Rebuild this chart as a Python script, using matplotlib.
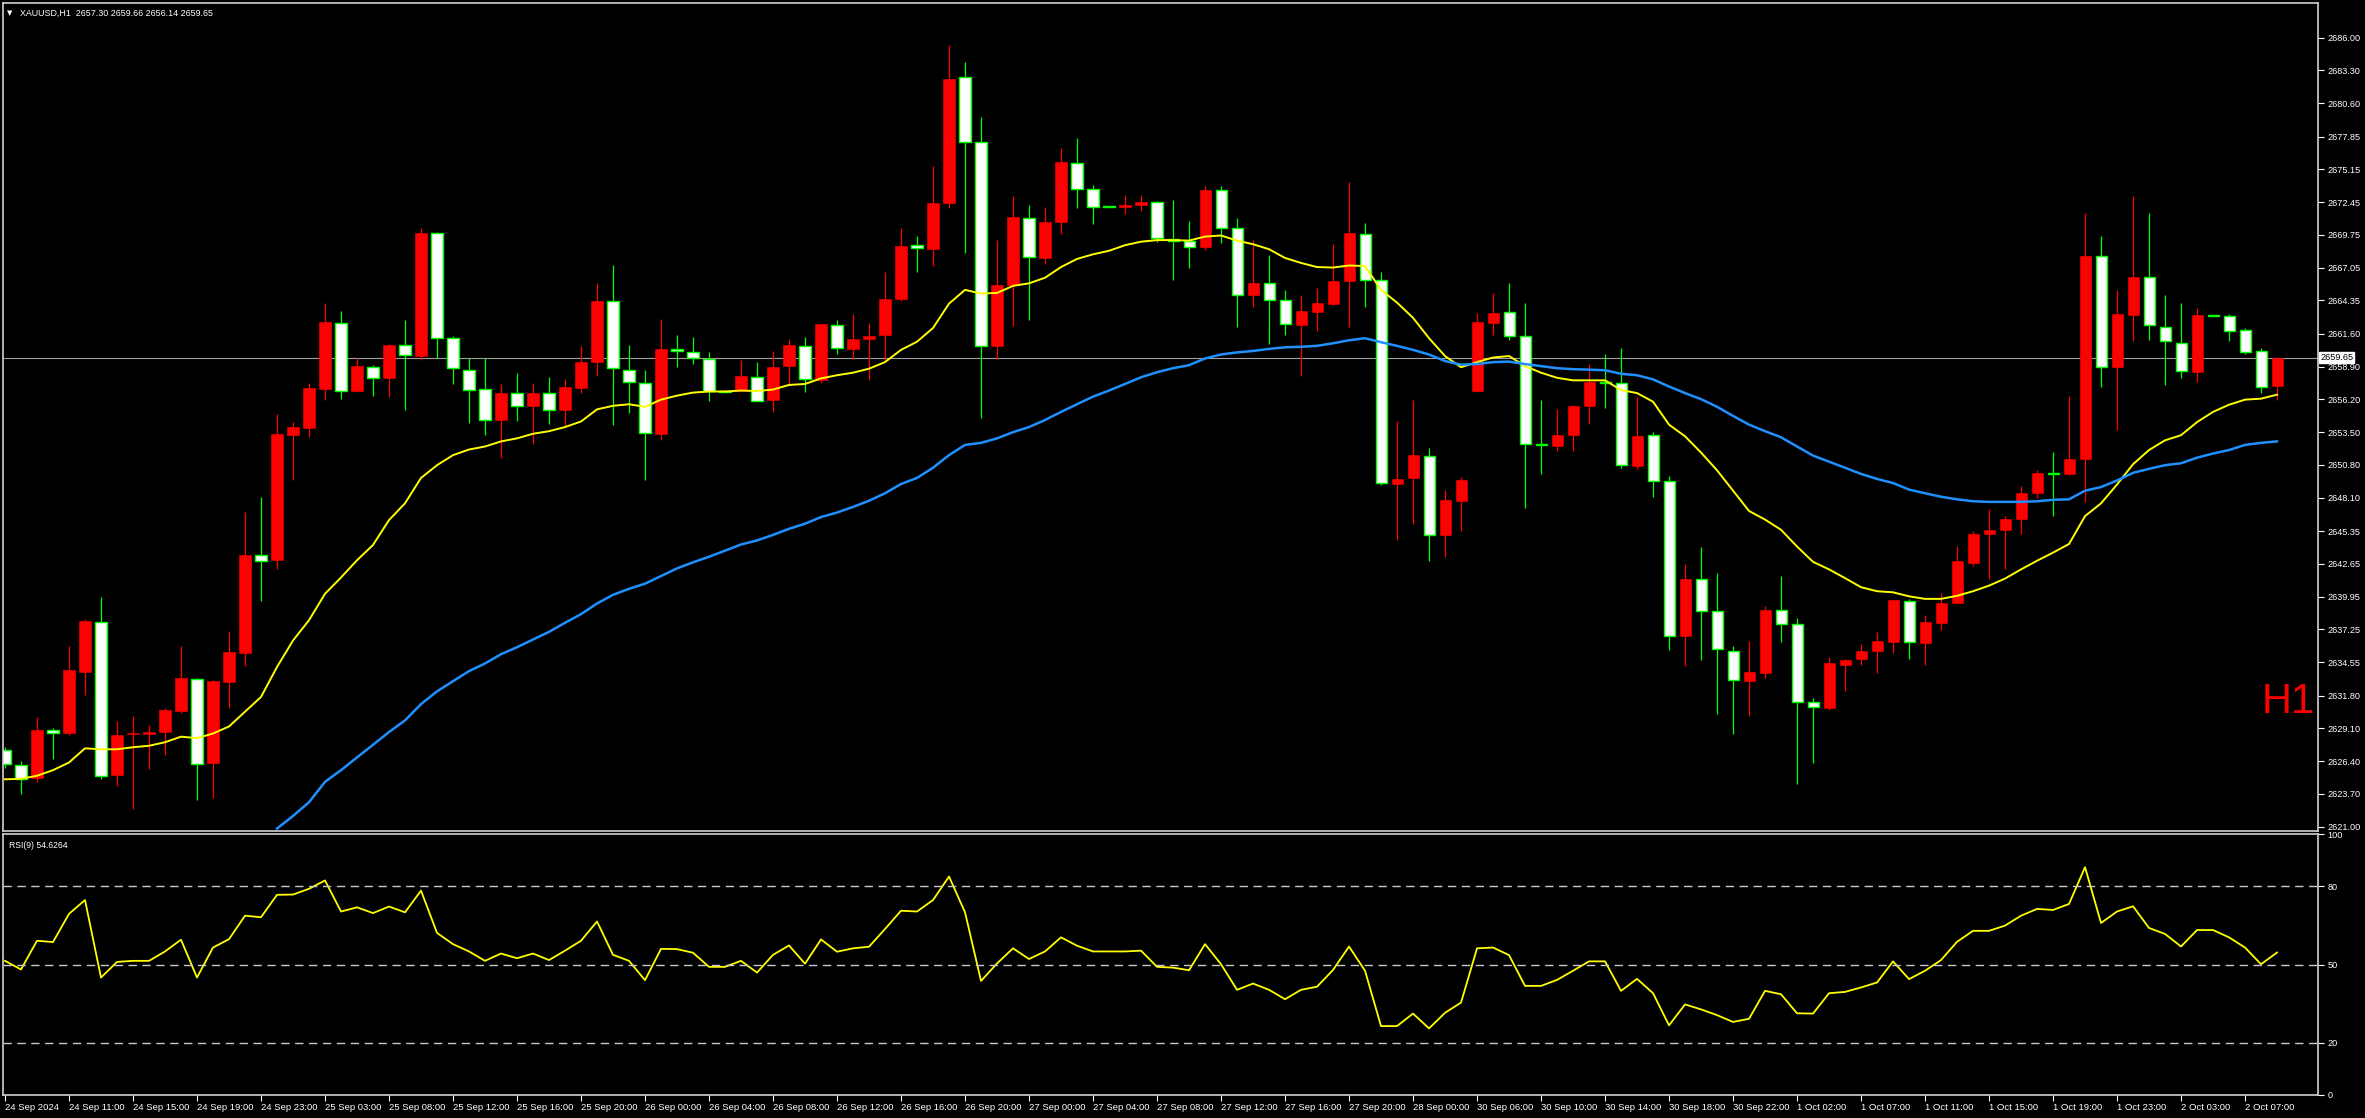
import numpy as np
import matplotlib.pyplot as plt

# XAUUSD H1 candles (open, high, low, close)
opens = [2627.29, 2626.12, 2624.99, 2628.93, 2628.76, 2633.78, 2637.88, 2625.24, 2628.63, 2628.63,
         2628.84, 2630.52, 2633.20, 2626.21, 2632.94, 2635.33, 2643.37, 2642.95, 2653.29, 2653.87,
         2657.05, 2662.50, 2656.89, 2658.90, 2657.98, 2660.69, 2659.77, 2669.91, 2661.24, 2658.65,
         2657.05, 2654.54, 2656.76, 2655.67, 2656.76, 2655.34, 2657.14, 2659.27, 2664.30, 2658.65,
         2657.56, 2653.37, 2660.32, 2660.11, 2659.52, 2656.89, 2656.89, 2658.06, 2656.13, 2658.94,
         2660.61, 2657.81, 2662.33, 2660.32, 2661.16, 2661.53, 2664.51, 2668.90, 2668.61, 2672.37,
         2682.76, 2677.40, 2660.61, 2665.63, 2671.16, 2667.81, 2670.79, 2675.68, 2673.55, 2672.10,
         2672.08, 2672.25, 2672.42, 2669.44, 2669.28, 2668.78, 2673.46, 2670.28, 2664.76, 2665.76,
         2664.38, 2662.33, 2663.42, 2664.05, 2665.93, 2669.86, 2666.01, 2649.27, 2649.69, 2651.57,
         2645.00, 2647.85, 2656.89, 2662.50, 2663.38, 2661.41, 2652.49, 2652.33, 2653.29, 2655.67,
         2657.60, 2657.56, 2650.69, 2653.29, 2649.44, 2636.75, 2641.40, 2638.76, 2635.50, 2633.03,
         2633.70, 2638.85, 2637.67, 2631.31, 2630.81, 2634.33, 2634.79, 2635.50, 2636.25, 2639.60,
         2636.17, 2637.80, 2639.43, 2642.74, 2645.08, 2645.42, 2646.34, 2648.47, 2650.11, 2650.02,
         2651.32, 2667.98, 2658.90, 2663.17, 2666.31, 2662.16, 2660.86, 2658.48, 2663.12, 2663.04,
         2661.91, 2660.19, 2657.30]
highs = [2627.55, 2626.41, 2630.06, 2629.14, 2635.92, 2638.09, 2639.89, 2629.72, 2630.14, 2629.39,
         2630.77, 2635.92, 2633.24, 2633.07, 2637.09, 2646.92, 2648.18, 2654.96, 2654.33, 2657.52,
         2664.17, 2663.50, 2659.65, 2659.06, 2660.74, 2662.71, 2670.32, 2669.99, 2661.45, 2659.61,
         2659.61, 2657.43, 2658.35, 2657.52, 2658.02, 2657.85, 2660.57, 2665.80, 2667.27, 2660.65,
         2658.60, 2662.79, 2661.53, 2661.37, 2660.07, 2656.93, 2659.48, 2659.31, 2660.15, 2661.20,
         2661.37, 2662.45, 2662.71, 2663.25, 2662.46, 2666.72, 2670.32, 2669.65, 2675.39, 2685.35,
         2684.01, 2679.49, 2669.32, 2672.96, 2672.21, 2672.04, 2676.90, 2677.69, 2673.84, 2672.12,
         2673.00, 2673.00, 2672.54, 2672.63, 2670.91, 2673.76, 2673.76, 2671.16, 2669.32, 2668.11,
         2665.22, 2664.76, 2665.39, 2669.03, 2674.09, 2670.74, 2666.72, 2654.42, 2656.13, 2652.16,
         2648.73, 2649.81, 2663.33, 2664.93, 2665.80, 2664.17, 2656.18, 2655.38, 2655.71, 2659.15,
         2659.90, 2660.40, 2656.43, 2653.50, 2649.86, 2642.65, 2644.04, 2641.94, 2635.92, 2636.30,
         2639.22, 2641.69, 2638.18, 2631.61, 2634.95, 2634.79, 2636.04, 2637.01, 2639.68, 2639.77,
         2638.47, 2640.23, 2644.16, 2645.33, 2647.18, 2646.59, 2649.06, 2650.40, 2651.87, 2656.47,
         2671.54, 2669.65, 2665.18, 2672.96, 2671.54, 2664.76, 2664.17, 2663.75, 2663.14, 2663.21,
         2662.04, 2660.45, 2659.66]
lows = [2625.87, 2623.69, 2624.70, 2626.54, 2628.55, 2631.84, 2624.95, 2624.32, 2622.44, 2625.75,
        2626.87, 2630.35, 2623.23, 2623.36, 2630.81, 2634.28, 2639.60, 2642.24, 2649.60, 2653.08,
        2656.13, 2656.26, 2656.85, 2656.51, 2656.43, 2655.34, 2659.44, 2659.65, 2657.47, 2654.29,
        2653.29, 2651.40, 2654.38, 2652.49, 2654.21, 2653.92, 2656.72, 2658.10, 2654.13, 2655.09,
        2649.52, 2652.87, 2658.90, 2659.15, 2656.09, 2656.81, 2656.85, 2656.05, 2655.13, 2657.35,
        2656.80, 2657.56, 2659.94, 2659.52, 2657.77, 2659.36, 2664.34, 2666.72, 2667.18, 2672.00,
        2668.27, 2654.63, 2659.52, 2662.25, 2662.71, 2667.39, 2669.86, 2672.00, 2670.62, 2672.04,
        2671.45, 2671.75, 2669.15, 2666.01, 2667.06, 2668.48, 2669.07, 2662.16, 2663.84, 2660.74,
        2661.53, 2658.10, 2661.83, 2664.01, 2662.16, 2663.79, 2649.19, 2644.58, 2645.92, 2642.87,
        2643.20, 2645.38, 2656.85, 2661.49, 2661.07, 2647.22, 2650.02, 2651.95, 2651.91, 2654.21,
        2655.51, 2650.57, 2650.48, 2648.14, 2635.58, 2634.28, 2634.75, 2630.31, 2628.68, 2630.10,
        2633.28, 2636.25, 2624.49, 2626.29, 2630.64, 2632.15, 2634.33, 2633.70, 2635.29, 2634.83,
        2634.33, 2637.17, 2639.39, 2642.49, 2641.44, 2642.24, 2645.12, 2648.05, 2646.63, 2649.98,
        2647.76, 2657.22, 2653.71, 2660.99, 2661.07, 2657.39, 2657.98, 2657.64, 2663.06, 2660.99,
        2659.90, 2656.72, 2656.14]
closes = [2626.16, 2624.95, 2628.97, 2628.72, 2633.91, 2637.93, 2625.16, 2628.55, 2628.72, 2628.84,
          2630.60, 2633.24, 2626.16, 2632.99, 2635.37, 2643.41, 2642.91, 2653.33, 2653.92, 2657.10,
          2662.54, 2656.93, 2658.98, 2657.98, 2660.65, 2659.86, 2669.91, 2661.28, 2658.77, 2657.01,
          2654.54, 2656.76, 2655.67, 2656.76, 2655.34, 2657.18, 2659.27, 2664.34, 2658.77, 2657.60,
          2653.41, 2660.36, 2660.15, 2659.57, 2656.89, 2656.85, 2658.10, 2656.09, 2658.90, 2660.65,
          2657.89, 2662.37, 2660.45, 2661.20, 2661.45, 2664.51, 2668.86, 2668.65, 2672.37, 2682.63,
          2677.40, 2660.61, 2665.63, 2671.20, 2667.90, 2670.83, 2675.72, 2673.51, 2672.08, 2672.06,
          2672.21, 2672.42, 2669.53, 2669.28, 2668.73, 2673.42, 2670.28, 2664.76, 2665.80, 2664.38,
          2662.37, 2663.50, 2664.17, 2665.97, 2669.91, 2666.05, 2649.31, 2649.65, 2651.61, 2645.00,
          2647.93, 2649.56, 2662.54, 2663.29, 2661.41, 2652.53, 2652.41, 2653.29, 2655.67, 2657.60,
          2657.56, 2650.78, 2653.20, 2649.48, 2636.75, 2641.40, 2638.80, 2635.62, 2633.07, 2633.74,
          2638.89, 2637.67, 2631.31, 2630.85, 2634.45, 2634.75, 2635.50, 2636.30, 2639.64, 2636.25,
          2637.84, 2639.43, 2642.91, 2645.12, 2645.46, 2646.38, 2648.47, 2650.15, 2650.02, 2651.32,
          2668.02, 2658.90, 2663.25, 2666.31, 2662.29, 2660.99, 2658.52, 2663.12, 2663.08, 2661.87,
          2660.11, 2657.22, 2659.65]

# moving averages as drawn on the chart
ma_fast = [2624.91, 2624.95, 2625.20, 2625.66, 2626.29, 2627.46, 2627.38, 2627.38, 2627.55, 2627.67,
           2627.96, 2628.42, 2628.30, 2628.68, 2629.26, 2630.48, 2631.69, 2634.16, 2636.34, 2638.01,
           2640.19, 2641.53, 2642.95, 2644.21, 2646.26, 2647.64, 2649.73, 2650.78, 2651.61, 2652.07,
           2652.32, 2652.74, 2652.99, 2653.37, 2653.58, 2653.92, 2654.38, 2655.38, 2655.67, 2655.80,
           2655.59, 2656.18, 2656.51, 2656.76, 2656.85, 2656.85, 2656.93, 2656.89, 2657.01, 2657.39,
           2657.47, 2657.93, 2658.19, 2658.40, 2658.73, 2659.27, 2660.28, 2660.95, 2662.08, 2664.09,
           2665.22, 2664.92, 2664.97, 2665.55, 2665.76, 2666.22, 2667.10, 2667.77, 2668.15, 2668.44,
           2668.90, 2669.19, 2669.32, 2669.32, 2669.28, 2669.61, 2669.70, 2669.28, 2668.98, 2668.57,
           2667.85, 2667.44, 2667.10, 2667.06, 2667.23, 2667.18, 2665.22, 2664.17, 2662.92, 2661.24,
           2659.77, 2658.85, 2659.27, 2659.65, 2659.77, 2658.94, 2658.40, 2657.98, 2657.77, 2657.77,
           2657.77, 2656.97, 2656.72, 2656.01, 2654.12, 2653.16, 2651.82, 2650.36, 2648.68, 2647.01,
           2646.30, 2645.46, 2644.08, 2642.82, 2642.20, 2641.48, 2640.73, 2640.40, 2640.31, 2639.98,
           2639.77, 2639.77, 2640.02, 2640.40, 2640.86, 2641.44, 2642.20, 2642.91, 2643.58, 2644.29,
           2646.59, 2647.64, 2649.19, 2650.86, 2652.03, 2652.83, 2653.25, 2654.33, 2655.17, 2655.76,
           2656.18, 2656.26, 2656.59]
ma_slow_start = 17
ma_slow = [2620.85, 2621.89, 2623.02, 2624.70, 2625.66, 2626.71, 2627.75, 2628.80, 2629.76, 2631.10,
           2632.15, 2632.99, 2633.82, 2634.45, 2635.21, 2635.79, 2636.42, 2637.05, 2637.80, 2638.51,
           2639.39, 2640.10, 2640.60, 2641.02, 2641.65, 2642.28, 2642.78, 2643.24, 2643.74, 2644.25,
           2644.58, 2645.04, 2645.54, 2645.96, 2646.51, 2646.88, 2647.34, 2647.85, 2648.47, 2649.23,
           2649.73, 2650.57, 2651.61, 2652.45, 2652.62, 2652.99, 2653.50, 2653.92, 2654.50, 2655.17,
           2655.80, 2656.43, 2656.93, 2657.47, 2658.02, 2658.44, 2658.77, 2659.02, 2659.57, 2659.90,
           2660.07, 2660.19, 2660.36, 2660.49, 2660.53, 2660.61, 2660.82, 2661.07, 2661.24, 2660.91,
           2660.61, 2660.28, 2659.90, 2659.36, 2659.06, 2659.11, 2659.27, 2659.31, 2659.11, 2658.94,
           2658.77, 2658.69, 2658.65, 2658.60, 2658.31, 2658.19, 2657.85, 2657.26, 2656.72, 2656.22,
           2655.59, 2654.84, 2654.12, 2653.58, 2653.08, 2652.32, 2651.57, 2651.07, 2650.57, 2650.06,
           2649.65, 2649.31, 2648.77, 2648.47, 2648.18, 2647.97, 2647.81, 2647.76, 2647.76, 2647.76,
           2647.81, 2647.93, 2647.97, 2648.68, 2648.98, 2649.52, 2650.15, 2650.48, 2650.78, 2650.94,
           2651.40, 2651.74, 2652.03, 2652.45, 2652.62, 2652.74]

rsi = [51.4, 48.1, 59.1, 58.6, 69.4, 74.7, 45.0, 51.0, 51.4, 51.4,
       55.0, 59.5, 45.0, 56.5, 59.7, 68.7, 68.1, 76.7, 76.8, 79.0,
       82.2, 70.3, 71.9, 69.7, 72.2, 70.0, 78.3, 62.1, 57.8, 55.0,
       51.4, 54.2, 52.4, 54.2, 51.7, 55.3, 59.1, 66.5, 53.7, 51.4,
       44.0, 56.0, 55.9, 54.5, 49.1, 49.1, 51.4, 46.9, 53.7, 57.3,
       50.3, 59.6, 54.9, 56.2, 56.8, 63.6, 70.6, 70.3, 74.7, 83.7,
       70.0, 43.7, 50.4, 56.2, 52.1, 55.0, 60.4, 57.2, 55.0, 55.0,
       55.0, 55.3, 49.1, 48.8, 47.8, 57.8, 50.1, 40.3, 42.7, 40.3,
       36.7, 40.3, 41.5, 47.9, 56.9, 47.6, 26.4, 26.4, 31.2, 25.5,
       31.5, 35.4, 56.2, 56.5, 53.6, 41.8, 41.8, 44.1, 47.6, 51.2,
       51.2, 39.9, 44.5, 39.0, 26.7, 34.7, 32.8, 30.6, 28.0, 29.2,
       39.9, 38.6, 31.3, 31.2, 39.0, 39.5, 41.2, 43.1, 51.2, 44.4,
       47.6, 51.7, 58.7, 62.9, 62.9, 64.9, 68.7, 71.3, 70.9, 73.2,
       87.3, 65.9, 70.3, 72.3, 64.0, 61.7, 56.9, 63.2, 63.2, 60.4,
       56.5, 50.1, 54.6]

time_tick_pos = list(range(0, 141, 4))
time_tick_labels = ['24 Sep 2024', '24 Sep 11:00', '24 Sep 15:00', '24 Sep 19:00', '24 Sep 23:00',
                    '25 Sep 03:00', '25 Sep 08:00', '25 Sep 12:00', '25 Sep 16:00', '25 Sep 20:00',
                    '26 Sep 00:00', '26 Sep 04:00', '26 Sep 08:00', '26 Sep 12:00', '26 Sep 16:00',
                    '26 Sep 20:00', '27 Sep 00:00', '27 Sep 04:00', '27 Sep 08:00', '27 Sep 12:00',
                    '27 Sep 16:00', '27 Sep 20:00', '28 Sep 00:00', '30 Sep 06:00', '30 Sep 10:00',
                    '30 Sep 14:00', '30 Sep 18:00', '30 Sep 22:00', '1 Oct 02:00', '1 Oct 07:00',
                    '1 Oct 11:00', '1 Oct 15:00', '1 Oct 19:00', '1 Oct 23:00', '2 Oct 03:00',
                    '2 Oct 07:00']
price_ticks = [2686.00, 2683.30, 2680.60, 2677.85, 2675.15, 2672.45, 2669.75, 2667.05, 2664.35,
               2661.60, 2658.90, 2656.20, 2653.50, 2650.80, 2648.10, 2645.35, 2642.65, 2639.95,
               2637.25, 2634.55, 2631.80, 2629.10, 2626.40, 2623.70, 2621.00]
rsi_ticks = [0, 20, 50, 80, 100]
last_price = 2659.65

W, H = 2365, 1118
fig = plt.figure(figsize=(W / 100, H / 100), dpi=100, facecolor='black')
plt.rcParams['font.family'] = ['Liberation Sans', 'DejaVu Sans']


def box(x0, y0, x1, y1):
    return [x0 / W, 1 - y1 / H, (x1 - x0) / W, (y1 - y0) / H]


ax = fig.add_axes(box(3, 3, 2318, 831))
rx = fig.add_axes(box(3, 834, 2318, 1095))
for a in (ax, rx):
    a.set_facecolor('black')
    for s in a.spines.values():
        s.set_color('#d0d0d0')
        s.set_linewidth(1.2)
    a.set_xlim(-0.125, 144.56)

o = np.array(opens)
c = np.array(closes)
hi = np.array(highs)
lo = np.array(lows)
idx = np.arange(len(o))
up = c >= o
dn = ~up

# wicks
ax.vlines(idx[up], lo[up], hi[up], color='#ff0000', lw=0.9, zorder=2)
ax.vlines(idx[dn], lo[dn], hi[dn], color='#00ff00', lw=0.9, zorder=2)
# bodies: rising bars red, falling bars white with green frame
body_w = 0.69
ax.bar(idx[up], np.maximum(c[up] - o[up], 0.07), bottom=o[up], width=body_w,
       color='#ff0000', edgecolor='#ff0000', lw=0.4, zorder=2.5)
ax.bar(idx[dn], np.maximum(o[dn] - c[dn], 0.05), bottom=c[dn], width=body_w,
       color='white', edgecolor='#00ff00', lw=1.0, zorder=2.5)

ax.plot(idx, ma_fast, color='#ffff00', lw=1.4, zorder=3)
ax.plot(np.arange(ma_slow_start, ma_slow_start + len(ma_slow)), ma_slow,
        color='#1e90ff', lw=1.8, zorder=3)
ax.axhline(last_price, color='#a0a0a0', lw=0.8, zorder=1)

ax.set_ylim(2620.65, 2688.85)
ax.yaxis.tick_right()
ax.set_yticks(price_ticks)
ax.set_yticklabels([f'{p:.2f}' for p in price_ticks])
ax.tick_params(axis='y', colors='white', labelcolor='white', labelsize=6.6,
               length=4, width=0.8, pad=3)
ax.set_xticks([])

fig.text(2320 / W, 1 - 357.5 / H, f'{last_price:.2f}', color='black', fontsize=6.6,
         ha='left', va='center',
         bbox=dict(boxstyle='square,pad=0.12', fc='white', ec='white'))
fig.text(2288 / W, 1 - 702 / H, 'H1', color='#ff0000', fontsize=30,
         ha='center', va='center')
fig.text(7 / W, 1 - 13 / H, '▼', color='white', fontsize=5, ha='left', va='center',
         family='DejaVu Sans')
fig.text(20 / W, 1 - 13 / H, 'XAUUSD,H1  2657.30 2659.66 2656.14 2659.65',
         color='white', fontsize=6.4, ha='left', va='center')

# RSI panel
rx.plot(idx, rsi, color='#ffff00', lw=1.3)
for lvl in (20, 50, 80):
    rx.axhline(lvl, color='#c8c8c8', lw=1.0, dashes=(6, 4))
rx.set_ylim(0, 100)
rx.yaxis.tick_right()
rx.set_yticks(rsi_ticks)
rx.set_yticklabels([str(v) for v in rsi_ticks])
rx.tick_params(axis='y', colors='white', labelcolor='white', labelsize=6.6,
               length=4, width=0.8, pad=3)
rx.set_xticks(time_tick_pos)
rx.set_xticklabels(time_tick_labels, ha='left')
rx.tick_params(axis='x', colors='white', labelcolor='white', labelsize=6.8,
               length=4, width=0.8, pad=2)
fig.text(9 / W, 1 - 845 / H, 'RSI(9) 54.6264', color='white', fontsize=6.2,
         ha='left', va='center')

fig.savefig('out.png', dpi=100, facecolor='black')
